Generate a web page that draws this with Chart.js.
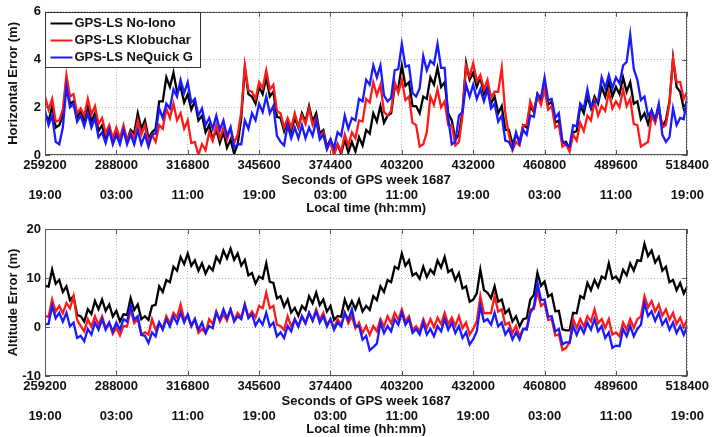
<!DOCTYPE html>
<html>
<head>
<meta charset="utf-8">
<script src="https://cdn.jsdelivr.net/npm/chart.js@4.4.1/dist/chart.umd.min.js"></script>
<style>
  body { margin: 0; background: #fff; }
  canvas { display: block; }
</style>
</head>
<body>
<canvas id="horizChart" width="712" height="216"></canvas>
<canvas id="altChart" width="712" height="221"></canvas>
<script>
// GPS week 1687, seconds of week, one sample every 1440 s
const weekStart = 259200;
const weekEnd = 518400;
const sampleStep = 1440;
const tickStep = 28800;
const localTimes = ["19:00", "03:00", "11:00", "19:00", "03:00", "11:00", "19:00", "03:00", "11:00", "19:00"];
const seriesNames = ["GPS-LS No-Iono", "GPS-LS Klobuchar", "GPS-LS NeQuick G"];

// horizontal error (m)
const horizNoIono = [
  1.75, 1.4, 2.05, 1.15, 1.25, 1.65, 3.05, 2.15, 2.25, 1.55,
  1.85, 1.45, 2.05, 1.4, 1.75, 1.0, 1.25, 0.65, 1.05, 0.55,
  1.05, 0.6, 1.15, 0.6, 1.05, 0.9, 1.75, 1.1, 1.45, 0.7,
  0.95, 1.1, 2.25, 2.25, 3.25, 2.85, 3.45, 2.65, 2.85, 2.2,
  2.55, 1.9, 2.25, 1.45, 1.65, 0.95, 1.25, 0.65, 1.05, 0.5,
  0.95, 0.3, 0.65, 0.05, 0.45, 1.55, 3.65, 2.55, 2.45, 2.15,
  2.85, 2.55, 3.25, 2.45, 2.65, 1.6, 1.55, 1.0, 1.45, 1.0,
  1.55, 1.15, 1.75, 1.4, 2.05, 1.4, 1.75, 0.9, 1.05, 0.35,
  0.65, 0.05, 0.45, 0.05, 0.65, 0.1, 0.55, 0.15, 0.75, 0.4,
  1.05, 0.9, 1.75, 1.4, 2.05, 1.35, 1.65, 1.75, 2.85, 2.8,
  3.75, 2.9, 3.05, 2.05, 2.05, 1.75, 2.45, 2.35, 3.25, 2.95,
  3.65, 2.85, 3.05, 1.75, 1.45, 0.65, 0.85, 1.85, 3.85, 3.15,
  3.45, 2.85, 3.25, 2.55, 2.85, 2.15, 2.45, 1.75, 2.05, 1.05,
  1.05, 0.45, 0.85, 0.55, 1.25, 1.15, 2.05, 1.8, 2.55, 2.25,
  2.95, 2.1, 2.25, 1.35, 1.45, 0.5, 0.55, 0.25, 0.95, 1.0,
  2.05, 1.75, 2.45, 1.95, 2.45, 2.15, 2.85, 2.45, 3.05, 2.45,
  2.85, 2.55, 3.25, 2.65, 3.05, 2.15, 2.25, 1.5, 1.75, 1.3,
  1.85, 1.4, 1.95, 1.2, 1.45, 2.25, 4.05, 2.85, 2.65, 1.95,
  2.25
];
const horizKlobuchar = [
  2.45, 1.9, 2.35, 1.4, 1.45, 1.9, 3.35, 2.45, 2.55, 1.75,
  1.95, 1.65, 2.35, 1.7, 2.05, 1.3, 1.55, 0.9, 1.25, 0.7,
  1.15, 0.7, 1.25, 0.6, 0.95, 0.7, 1.45, 0.85, 1.25, 0.55,
  0.85, 0.55, 1.25, 1.1, 1.95, 1.55, 2.15, 1.45, 1.75, 1.1,
  1.45, 0.5, 0.55, 0.0, 0.45, 0.2, 0.95, 0.6, 1.25, 0.7,
  1.15, 0.65, 1.15, 0.5, 0.85, 1.8, 3.75, 2.7, 2.65, 2.35,
  3.05, 2.8, 3.55, 2.75, 2.95, 1.85, 1.75, 1.15, 1.55, 1.15,
  1.75, 1.2, 1.65, 1.3, 1.95, 1.25, 1.55, 0.75, 0.95, 0.25,
  0.55, 0.0, 0.45, 0.15, 0.85, 0.4, 0.95, 0.7, 1.45, 1.4,
  2.35, 2.2, 3.05, 2.5, 2.95, 1.8, 1.65, 1.85, 3.05, 2.6,
  3.15, 2.3, 2.45, 1.35, 1.25, 0.35, 0.45, 0.95, 2.45, 2.1,
  2.75, 2.0, 2.25, 1.25, 1.25, 0.4, 0.55, 1.65, 3.75, 3.3,
  3.85, 3.1, 3.35, 2.75, 3.15, 2.4, 2.65, 2.65, 3.65, 1.75,
  0.85, 0.2, 0.55, 0.4, 1.25, 1.25, 2.25, 1.85, 2.45, 2.1,
  2.75, 1.9, 2.05, 1.15, 1.25, 0.35, 0.45, 0.15, 0.85, 0.6,
  1.35, 1.0, 1.65, 1.45, 2.25, 1.65, 2.05, 1.85, 2.65, 1.95,
  2.25, 2.0, 2.75, 2.05, 2.35, 1.3, 1.25, 0.35, 0.45, 0.55,
  1.65, 1.35, 2.05, 1.15, 1.25, 2.15, 4.05, 3.05, 3.05, 2.35,
  2.65
];
const horizNeQuick = [
  1.85, 1.25, 1.65, 0.55, 0.45, 1.15, 2.85, 2.0, 2.15, 1.4,
  1.65, 1.2, 1.75, 1.15, 1.55, 0.75, 0.95, 0.5, 1.05, 0.45,
  0.85, 0.45, 1.05, 0.45, 0.85, 0.45, 1.05, 0.45, 0.85, 0.35,
  0.85, 0.9, 1.95, 1.55, 2.15, 1.95, 2.75, 2.45, 3.15, 2.6,
  3.05, 2.2, 2.35, 1.65, 1.95, 1.25, 1.55, 1.1, 1.65, 1.05,
  1.45, 0.8, 1.15, 0.3, 0.45, 0.45, 1.45, 1.1, 1.75, 1.45,
  2.15, 1.8, 2.45, 1.75, 2.05, 0.8, 0.55, 0.4, 1.25, 0.7,
  1.15, 0.7, 1.25, 0.7, 1.15, 0.8, 1.45, 0.65, 0.85, 0.25,
  0.65, 0.3, 0.95, 0.8, 1.65, 1.1, 1.55, 1.45, 2.35, 2.25,
  3.15, 2.95, 3.75, 3.25, 3.75, 2.5, 2.25, 2.4, 3.55, 3.6,
  4.65, 3.7, 3.75, 2.6, 2.45, 2.8, 4.15, 3.55, 3.95, 3.8,
  4.65, 3.65, 3.65, 1.55, 0.45, 0.55, 1.65, 1.8, 2.95, 2.45,
  2.95, 2.35, 2.75, 2.25, 2.75, 1.95, 2.15, 1.4, 1.65, 0.6,
  0.55, 0.25, 0.95, 0.5, 1.05, 0.85, 1.65, 1.6, 2.55, 2.4,
  3.25, 2.3, 2.35, 1.55, 1.75, 0.6, 0.45, 0.35, 1.25, 1.2,
  2.15, 1.95, 2.75, 2.0, 2.25, 2.25, 3.25, 2.8, 3.35, 2.8,
  3.25, 3.0, 3.75, 3.9, 5.05, 3.6, 3.15, 2.3, 2.45, 1.65,
  1.85, 1.5, 2.15, 0.85, 0.55, 0.75, 1.95, 1.25, 1.55, 1.5,
  2.45
];

// altitude error (m)
const altNoIono = [
  8.4, 8.25, 11.7, 8.85, 9.6, 7.15, 8.3, 5.5, 6.3, 2.45,
  2.2, 1.1, 3.6, 2.65, 5.3, 3.65, 5.6, 3.3, 4.6, 2.15,
  3.3, 1.15, 2.6, 2.45, 5.9, 3.45, 4.6, 1.6, 2.2, 1.45,
  4.3, 4.5, 8.3, 7.15, 9.6, 9.15, 12.3, 11.5, 14.3, 12.85,
  15.0, 12.5, 13.6, 11.5, 13.0, 10.9, 12.4, 11.55, 14.3, 13.15,
  15.6, 14.0, 16.0, 13.7, 15.0, 12.55, 13.7, 10.55, 11.0, 8.85,
  10.3, 9.85, 13.0, 9.2, 9.0, 5.85, 6.3, 4.15, 5.6, 2.95,
  3.9, 2.3, 4.3, 3.5, 6.3, 4.85, 7.0, 4.5, 5.6, 3.15,
  4.3, 1.45, 2.2, 2.1, 5.6, 3.65, 5.3, 3.65, 5.6, 3.15,
  4.3, 3.5, 6.3, 5.5, 8.3, 7.15, 9.6, 9.15, 12.3, 11.85,
  15.0, 12.5, 13.6, 10.5, 11.0, 9.85, 12.3, 10.2, 11.7, 10.85,
  13.6, 12.15, 14.3, 11.2, 11.7, 9.55, 11.0, 7.85, 8.3, 5.15,
  5.6, 6.85, 11.7, 7.55, 7.0, 5.85, 8.3, 5.15, 5.6, 2.8,
  3.6, 1.1, 2.2, 0.1, 1.6, 1.8, 5.6, 6.55, 11.1, 8.4,
  9.3, 6.2, 6.7, 3.2, 3.3, -0.5, -0.7, -0.7, 2.9, 2.8,
  6.3, 5.85, 9.0, 7.5, 9.6, 8.15, 10.3, 9.85, 13.0, 9.85,
  10.3, 9.2, 11.7, 10.55, 13.0, 11.5, 13.6, 13.5, 17.0, 14.5,
  15.6, 13.15, 14.3, 11.5, 12.3, 9.15, 9.6, 7.5, 9.0, 6.85,
  8.3
];
const altKlobuchar = [
  2.2, 2.1, 5.6, 3.15, 4.3, 2.8, 4.9, 3.8, 6.3, 1.45,
  0.2, -0.9, 1.6, 0.1, 2.2, 0.4, 2.2, -0.25, 0.9, -1.4,
  -0.1, -1.75, 0.2, 0.1, 3.6, 0.8, 1.6, -1.55, -1.1, -1.55,
  1.6, -0.55, 0.9, -0.25, 2.2, 0.75, 2.9, 1.95, 4.6, 1.6,
  2.2, 0.1, 1.6, -1.2, -0.4, -1.2, 1.6, 0.6, 3.2, 1.1,
  2.6, 1.3, 3.6, 1.45, 2.9, 1.95, 4.6, 2.1, 3.2, 1.95,
  4.3, 3.85, 7.0, 3.85, 4.3, 0.45, 0.2, -0.6, 2.2, 0.1,
  1.6, 0.1, 2.2, 0.75, 2.9, 1.45, 3.6, 1.45, 2.9, 0.45,
  1.6, -0.2, 1.6, 0.45, 2.9, 0.75, 2.2, -0.25, 0.9, -1.25,
  0.2, -1.6, 0.2, -0.9, 1.6, 0.1, 2.2, 0.75, 2.9, 1.45,
  3.6, 1.1, 2.2, -0.6, 0.2, -0.9, 1.6, -0.2, 1.6, -0.05,
  1.9, 0.6, 2.9, 0.6, 1.9, 0.25, 2.2, -0.25, 0.9, -1.55,
  -0.4, 1.15, 6.3, 2.8, 2.9, 2.8, 6.3, 3.15, 3.6, 0.45,
  0.9, -1.25, 0.2, -1.9, -0.4, -0.2, 3.6, 3.65, 7.3, 4.3,
  4.9, 1.45, 1.6, -1.75, -1.5, -4.7, -4.3, -3.15, 1.6, -0.2,
  1.6, 0.1, 2.2, 1.1, 3.6, 0.8, 1.6, -0.2, 1.6, -1.55,
  -1.1, -1.9, 0.9, -0.55, 1.6, -0.2, 1.6, 2.15, 6.3, 4.0,
  5.3, 3.15, 4.6, 2.3, 3.6, 1.45, 2.9, 0.6, 1.9, -0.05,
  1.6
];
const altNeQuick = [
  0.6, 0.65, 4.3, 1.8, 2.9, 1.1, 2.9, 0.1, 0.9, -2.25,
  -1.8, -2.9, -0.4, -1.55, 0.9, -0.55, 1.6, -0.55, 0.9, -0.9,
  0.9, -0.55, 1.6, 1.15, 4.3, 1.45, 2.2, -1.6, -1.8, -3.25,
  -1.1, -1.9, 0.9, -0.55, 1.6, 0.1, 2.2, 0.75, 2.9, 0.95,
  2.6, 0.3, 1.6, -0.55, 0.9, -1.25, 0.2, -0.25, 2.9, 1.45,
  3.6, 1.8, 3.6, 1.1, 2.2, 1.6, 4.6, 1.8, 2.6, 0.3,
  1.6, 0.45, 2.9, 0.1, 0.9, -1.9, -1.1, -2.25, 0.2, -0.9,
  1.6, 0.1, 2.2, 0.75, 2.9, 1.25, 3.2, 0.9, 2.2, 0.1,
  1.6, -0.55, 0.9, 0.1, 2.9, 1.45, 3.6, 0.1, 0.2, -2.6,
  -1.8, -4.75, -4.1, -3.4, 0.9, -1.25, 0.2, -0.9, 1.6, 0.45,
  2.9, 0.45, 1.6, -1.2, -0.4, -1.55, 0.9, -1.55, -0.4, -1.9,
  0.2, -0.9, 1.6, -0.55, 0.9, -1.25, 0.2, -2.25, -1.1, -3.6,
  -2.5, -0.9, 4.3, 1.15, 1.6, 0.45, 2.9, 0.1, 0.9, -1.55,
  -0.4, -2.55, -1.1, -2.55, -0.4, -0.55, 2.9, 4.15, 9.0, 5.5,
  5.6, 2.1, 2.2, -0.9, -0.4, -3.55, -3.1, -3.25, 0.2, -1.6,
  0.2, -1.25, 0.9, -0.55, 1.6, -0.9, 0.2, -2.25, -1.1, -4.25,
  -3.8, -3.9, -0.4, -1.9, 0.2, -1.9, -0.4, 0.45, 4.9, 2.25,
  3.2, 1.25, 2.9, 0.45, 1.6, -0.55, 0.9, -1.25, 0.2, -1.6,
  0.2
];

const colors = ["#000000", "#ff1a1a", "#1a1aff"];
const sampleTimes = horizNoIono.map((_, i) => weekStart + i * sampleStep);

Chart.defaults.font.family = "'Liberation Sans', Arial, sans-serif";
Chart.defaults.font.weight = "bold";
Chart.defaults.font.size = 13;
Chart.defaults.color = "#111";

// MATLAB-like box round the axes with inward tick marks
const frameAndTicks = {
  id: "frameAndTicks",
  afterDatasetsDraw(chart) {
    const { ctx, chartArea: a, scales } = chart;
    ctx.save();
    ctx.strokeStyle = "#555";
    ctx.lineWidth = 1;
    ctx.beginPath();
    scales.x.ticks.forEach((t) => {
      const px = Math.round(scales.x.getPixelForValue(t.value)) + 0.5;
      ctx.moveTo(px, a.bottom);
      ctx.lineTo(px, a.bottom - 5);
      ctx.moveTo(px, a.top);
      ctx.lineTo(px, a.top + 5);
    });
    scales.y.ticks.forEach((t) => {
      const py = Math.round(scales.y.getPixelForValue(t.value)) + 0.5;
      ctx.moveTo(a.left, py);
      ctx.lineTo(a.left + 5, py);
      ctx.moveTo(a.right, py);
      ctx.lineTo(a.right - 5, py);
    });
    ctx.stroke();
    ctx.strokeRect(Math.round(a.left) + 0.5, Math.round(a.top) + 0.5,
      Math.round(a.width) - 1, Math.round(a.height) - 1);
    ctx.restore();
  },
};

// legend box inside the top-left corner
const boxLegend = {
  id: "boxLegend",
  afterDraw(chart, args, opts) {
    if (!opts.display) return;
    const { ctx, chartArea: a } = chart;
    const x0 = Math.round(a.left) + 0.5;
    const y0 = Math.round(a.top) + 0.5;
    ctx.save();
    ctx.fillStyle = "#fff";
    ctx.fillRect(x0, y0, 155, 55);
    ctx.strokeStyle = "#333";
    ctx.lineWidth = 1;
    ctx.strokeRect(x0, y0, 155, 55);
    ctx.font = "bold 13px 'Liberation Sans', Arial, sans-serif";
    ctx.textBaseline = "middle";
    chart.data.datasets.forEach((ds, i) => {
      const y = y0 + 11 + i * 17;
      ctx.strokeStyle = ds.borderColor;
      ctx.lineWidth = 2;
      ctx.beginPath();
      ctx.moveTo(x0 + 5, y);
      ctx.lineTo(x0 + 27, y);
      ctx.stroke();
      ctx.fillStyle = "#111";
      ctx.fillText(ds.label, x0 + 29, y);
    });
    ctx.restore();
  },
};

const makeSeries = (label, values, color, order) => ({
  label,
  order,
  data: values.map((v, i) => ({ x: sampleTimes[i], y: v })),
  borderColor: color,
  borderWidth: 2.3,
  pointRadius: 0,
  tension: 0,
  fill: false,
});

const makeChart = (canvasId, yTitle, values, yMin, yMax, yStep, padTop, showLegend) => {
  return new Chart(document.getElementById(canvasId), {
    type: "line",
    data: {
      datasets: values.map((v, i) => makeSeries(seriesNames[i], v, colors[i], 3 - i)),
    },
    options: {
      responsive: false,
      animation: false,
      layout: { padding: { left: 0, right: 23, top: padTop, bottom: 0 } },
      plugins: {
        legend: { display: false },
        tooltip: { enabled: false },
        boxLegend: { display: showLegend },
      },
      scales: {
        x: {
          type: "linear",
          min: weekStart,
          max: weekEnd,
          weight: 0,
          grid: { color: "#b8b8b8", drawTicks: false },
          border: { display: false, dash: [1, 2] },
          ticks: {
            stepSize: tickStep,
            autoSkip: false,
            maxRotation: 0,
            padding: 3,
            color: "#111",
            callback: (v) => String(v),
          },
          title: { display: true, text: "Seconds of GPS week 1687", padding: { top: 0, bottom: 0 } },
          afterFit: (s) => { s.height = 33; },
        },
        x2: {
          type: "linear",
          position: "bottom",
          min: weekStart,
          max: weekEnd,
          weight: 1,
          grid: { display: false, drawTicks: false },
          border: { display: false },
          ticks: {
            stepSize: tickStep,
            autoSkip: false,
            maxRotation: 0,
            padding: 0,
            color: "#111",
            callback: (v) => localTimes[Math.round((v - weekStart) / tickStep)],
          },
          title: { display: true, text: "Local time (hh:mm)", padding: { top: 0, bottom: 0 } },
          afterFit: (s) => { s.height = 28; },
        },
        y: {
          min: yMin,
          max: yMax,
          grid: { color: "#b8b8b8", drawTicks: false },
          border: { display: false, dash: [1, 2] },
          ticks: { stepSize: yStep, padding: 4, color: "#111", callback: (v) => String(v) },
          title: { display: true, text: yTitle, padding: { top: 6, bottom: 0 } },
          afterFit: (s) => { s.width = 45; },
        },
      },
    },
    plugins: [frameAndTicks, boxLegend],
  });
};

makeChart("horizChart", "Horizontal Error (m)",
  [horizNoIono, horizKlobuchar, horizNeQuick], 0, 6, 2, 10, true);
makeChart("altChart", "Altitude Error (m)",
  [altNoIono, altKlobuchar, altNeQuick], -10, 20, 10, 13, false);
</script>
</body>
</html>
